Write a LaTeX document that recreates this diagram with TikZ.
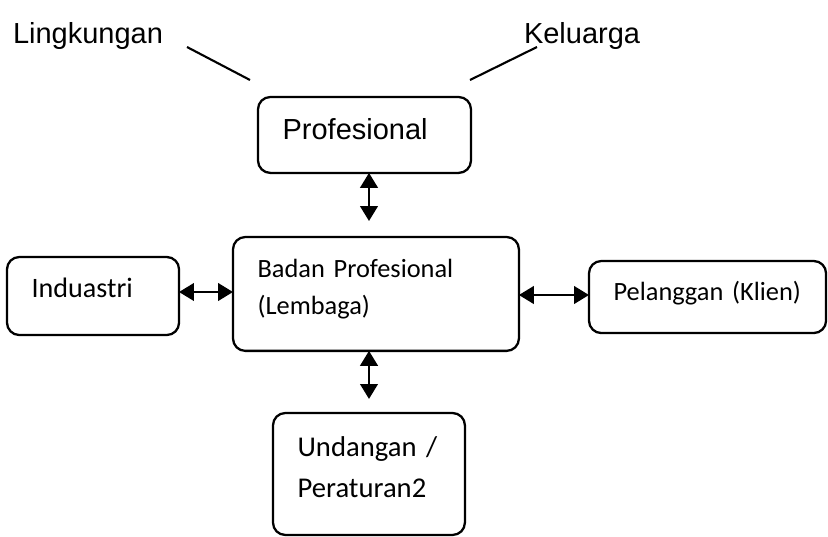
\documentclass[tikz,border=0pt]{standalone}
\usepackage{fontspec}
\setmainfont{Carlito}
\newfontfamily\arialfont{Liberation Sans}
\usetikzlibrary{arrows.meta}

\begin{document}
\begin{tikzpicture}[scale=0.2,
                        box/.style={draw=black, line width=1.3pt, rounded corners=7pt, anchor=north west, inner xsep=14pt, inner ysep=0pt, align=left},
                        dbl/.style={{Triangle[length=8.5pt,width=10pt]}-{Triangle[length=8.5pt,width=10pt]}, line width=1.3pt},
                        arial/.style={font=\arialfont\fontsize{16.5pt}{20pt}\selectfont}]
                        \useasboundingbox (0,0) rectangle (82.8,-53.6);
                        \tikzstyle{every node}+=[outer sep=0pt]
                        % labels on top
                        \node [arial, anchor=base west, inner sep=0pt] (lingkungan) at (1.3,-4.3) {Lingkungan};
                        \node [arial, anchor=base west, inner sep=0pt] (keluarga) at (52.4,-4.3) {Keluarga};
                        \coordinate (lingA) at (18.7,-4.7);
                        \coordinate (lingB) at (25.0,-8.0);
                        \coordinate (kelA) at (53.7,-4.7);
                        \coordinate (kelB) at (47.0,-8.0);
                        \draw [black, line width=1.2pt] (lingA) -- (lingB);
                        \draw [black, line width=1.2pt] (kelA) -- (kelB);
                        % boxes
                        \node [box, arial, text width=93.2pt, text height=23.9pt, text depth=19.3pt] (prof) at (25.8,-9.7) {Profesional};
                        \node [box, font=\fontsize{16pt}{20pt}\selectfont, text width=69.9pt, text height=23.3pt, text depth=21.1pt] (induastri) at (0.7,-25.7) {Induastri};
                        \node [box, font=\fontsize{15pt}{21pt}\selectfont, text width=134.7pt, text height=23.3pt, text depth=41.5pt] (badan) at (23.3,-23.7) {\begin{tabular}[t]{@{}l@{}}Badan Profesional\\(Lembaga)\end{tabular}};
                        \node [box, font=\fontsize{15pt}{20pt}\selectfont, text width=106.9pt, text height=22.2pt, text depth=18.8pt] (pelanggan) at (58.9,-26.1) {Pelanggan (Klien)};
                        \node [box, font=\fontsize{16.3pt}{23.3pt}\selectfont, text width=81.2pt, text height=25pt, text depth=44.4pt] (undangan) at (27.3,-41.3) {\begin{tabular}[t]{@{}l@{}}Undangan /\\Peraturan2\end{tabular}};
                        % arrows
                        \draw [dbl, shorten >=9.1pt] (prof.south -| 36.9,0) -- (badan.north -| 36.9,0);
                        \draw [dbl, shorten >=8pt] (badan.south -| 36.9,0) -- (undangan.north -| 36.9,0);
                        \draw [dbl] (induastri.east |- 0,-29.2) -- (badan.west |- 0,-29.2);
                        \draw [dbl] (badan.east |- 0,-29.5) -- (pelanggan.west |- 0,-29.5);
                    \end{tikzpicture}
\end{document}
